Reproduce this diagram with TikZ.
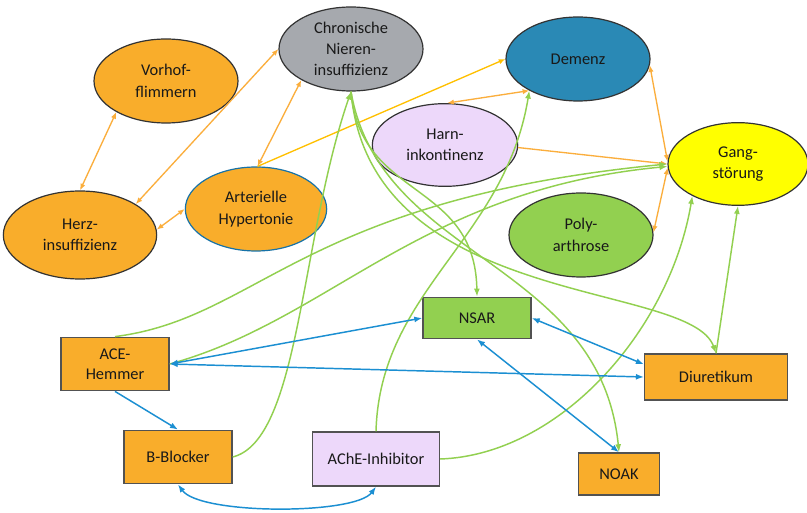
\documentclass[tikz,border=0pt]{standalone}
\usepackage{fontspec}
\setmainfont{Carlito}
\usetikzlibrary{shapes.geometric,arrows.meta}
\definecolor{orangefill}{HTML}{F9AD2B}
\definecolor{grayfill}{HTML}{A6A9AE}
\definecolor{bluefill}{HTML}{2A89B5}
\definecolor{lilacfill}{HTML}{EDD8FA}
\definecolor{yellowfill}{HTML}{FFFF00}
\definecolor{greenfill}{HTML}{92D050}
\definecolor{orangeline}{HTML}{FBAE3C}
\definecolor{yellowline}{HTML}{FFC000}
\definecolor{greenline}{HTML}{92D050}
\definecolor{blueline}{HTML}{1B8FD2}
\definecolor{edgedark}{HTML}{333333}
\tikzset{ellnode/.style={ellipse,draw=edgedark,line width=0.9pt,inner sep=0pt,align=center,text=black!90,font=\fontsize{12.3}{16}\selectfont},
  boxnode/.style={rectangle,draw=edgedark!85,line width=1.1pt,inner sep=0pt,align=center,text=black!90,font=\fontsize{12.3}{15}\selectfont},
  otip/.tip={Latex[length=5pt,width=4pt]},
  gtip/.tip={Latex[length=6pt,width=4.5pt]},
  oline/.style={draw=orangeline,line width=1pt},
  gline/.style={draw=greenline,line width=1.1pt,-gtip},
  bline/.style={draw=blueline,line width=1.1pt}
}

\begin{document}
\begin{tikzpicture}[x=0.75pt,y=-0.75pt]
  \fill[white] (0,0) rectangle (807,513);
  \useasboundingbox (0,0) rectangle (807,513);

  % Diagnoses
  \node[ellnode,fill=orangefill,minimum width=108pt,minimum height=63pt] (vorhof) at (166,81) {Vorhof-\\flimmern};
  \node[ellnode,fill=grayfill,minimum width=108pt,minimum height=63pt] (niere) at (351,49) {Chronische\\Nieren-\\insuffizienz};
  \node[ellnode,fill=orangefill,minimum width=115pt,minimum height=66pt] (herz) at (80,235) {Herz-\\insuffizienz};
  \node[ellnode,fill=orangefill,draw=blueline!80!black,minimum width=106pt,minimum height=63pt] (hyper) at (256,209) {Arterielle\\Hypertonie};
  \node[ellnode,fill=bluefill,minimum width=108pt,minimum height=63pt] (demenz) at (578,59) {Demenz};
  \node[ellnode,fill=lilacfill,minimum width=109pt,minimum height=62pt] (harn) at (445,145) {Harn-\\inkontinenz};
  \node[ellnode,fill=yellowfill,minimum width=105pt,minimum height=62pt] (gang) at (738,164) {Gang-\\störung};
  \node[ellnode,fill=greenfill,minimum width=108pt,minimum height=63pt] (poly) at (581,235) {Poly-\\arthrose};

  % Drugs
  \node[boxnode,fill=orangefill,minimum width=81pt,minimum height=40pt] (ace) at (115,364) {ACE-\\Hemmer};
  \node[boxnode,fill=orangefill,minimum width=81pt,minimum height=40pt] (bblock) at (178,457) {B-Blocker};
  \node[boxnode,fill=lilacfill,minimum width=95pt,minimum height=40.5pt] (ache) at (376,459) {AChE-Inhibitor};
  \node[boxnode,fill=greenfill,minimum width=81pt,minimum height=31pt] (nsar) at (477,318) {NSAR};
  \node[boxnode,fill=orangefill,minimum width=107pt,minimum height=34.5pt] (diur) at (716,377) {Diuretikum};
  \node[boxnode,fill=orangefill,minimum width=61pt,minimum height=31.5pt] (noak) at (619,474) {NOAK};

  % Diagnosis to diagnosis
  \draw[oline,otip-otip] (vorhof.212) -- (herz.90);
  \draw[oline,otip-otip] (niere.180) -- (herz.29);
  \draw[oline,otip-otip] (niere.212) -- (hyper.88);
  \draw[oline,otip-otip] (herz.4) -- (hyper.180);
  \draw[oline,draw=yellowline,-otip] (hyper.88) -- (demenz.180);
  \draw[oline,otip-otip] (harn.87) -- (demenz.213);
  \draw[oline,-otip] (harn.358) -- (gang.180);
  \draw[oline,otip-otip] (demenz.355) -- (gang.178);
  \draw[oline,otip-otip] (poly.2) -- (gang.183);

  % Drug to diagnosis
  \draw[gline] (bblock.east) .. controls (300,440) and (300,240) .. (niere.south);
  \draw[gline] (ace.north) .. controls (260,318) and (300,200) .. (gang.180);
  \draw[gline] (ace.east) .. controls (330,320) and (420,190) .. (gang.182);
  \draw[gline] (ache.north) .. controls (380,290) and (505,240) .. (demenz.213);
  \draw[gline] (ache.east) .. controls (560,455) and (670,330) .. (gang.215);
  \draw[gline] (diur.north) -- (gang.south);

  % Diagnosis to drug
  \draw[gline] (niere.south) .. controls (360,200) and (475,180) .. (nsar.north);
  \draw[gline] (niere.south) .. controls (370,310) and (690,280) .. (diur.north);
  \draw[gline] (niere.south) .. controls (380,260) and (600,260) .. (noak.north);

  % Drug to drug
  \draw[bline,gtip-gtip] (ace.east) -- (nsar.west);
  \draw[bline,gtip-gtip] (ace.east) -- (diur.west);
  \draw[bline,-gtip] (ace.south) -- (bblock.north);
  \draw[bline,gtip-gtip] (bblock.south) .. controls (200,515) and (355,515) .. (ache.south);
  \draw[bline,gtip-gtip] (nsar.east) -- (diur.170);
  \draw[bline,gtip-gtip] (nsar.south) -- (noak.north);

\end{tikzpicture}
\end{document}
